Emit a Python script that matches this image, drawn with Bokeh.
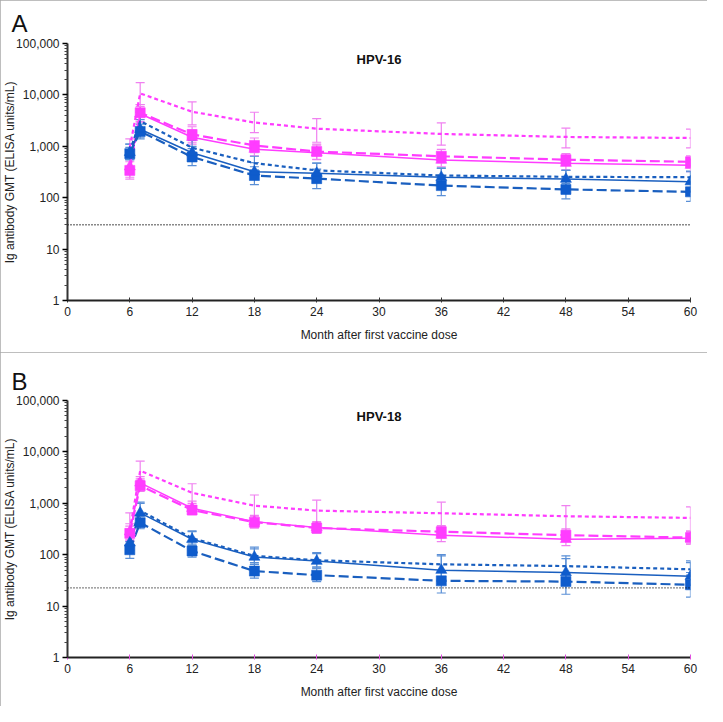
from bokeh.plotting import figure
from bokeh.models import (ColumnDataSource, Whisker, TeeHead, Span, Label, FixedTicker,
                          NumeralTickFormatter, Range1d, Title)
from bokeh.layouts import column
from bokeh.embed import file_html
from bokeh.resources import INLINE

months = [6, 7, 12, 18, 24, 36, 48, 60]
x_ticks = [0, 6, 12, 18, 24, 30, 36, 42, 48, 54, 60]
y_ticks = [1, 10, 100, 1000, 10000, 100000]
y_minor = [m * d for d in [1, 10, 100, 1000, 10000] for m in range(2, 10)]

# ---- Panel A: HPV-16 ----
a_ref = 29.8
a_mag_solid = [400, 4300, 1500, 880, 750, 540, 470, 430]
a_mag_solid_lo = [250, 3000, 1100, 650, 550, 400, 350, 320]
a_mag_solid_hi = [650, 6000, 2100, 1200, 1050, 750, 640, 580]
a_mag_long = [340, 4500, 1700, 1040, 790, 640, 550, 500]
a_mag_long_lo = [230, 3000, 1200, 750, 560, 480, 420, 380]
a_mag_long_hi = [500, 6500, 2400, 1450, 1100, 870, 720, 650]
a_mag_short = [950, 10700, 4700, 2900, 2200, 1740, 1520, 1450]
a_mag_short_lo = [550, 6500, 2600, 1850, 1200, 1050, 930, 930]
a_mag_short_hi = [1400, 17300, 7300, 4600, 3450, 2850, 2250, 2150]
a_blue_solid = [760, 2150, 750, 320, 300, 250, 230, 205]
a_blue_solid_lo = [550, 1500, 550, 230, 200, 170, 150, 130]
a_blue_solid_hi = [1100, 3300, 1000, 480, 470, 380, 340, 320]
a_blue_long = [720, 1950, 620, 270, 235, 172, 145, 130]
a_blue_long_lo = [550, 1400, 420, 180, 150, 110, 95, 85]
a_blue_long_hi = [950, 2700, 900, 400, 360, 260, 220, 200]
a_blue_short = [800, 3100, 940, 470, 340, 270, 255, 250]
a_blue_short_lo = [600, 2200, 700, 350, 250, 200, 190, 185]
a_blue_short_hi = [1100, 4500, 1300, 640, 470, 370, 340, 330]

# ---- Panel B: HPV-18 ----
b_ref = 22.6
b_mag_solid = [280, 2500, 800, 440, 340, 240, 200, 210]
b_mag_solid_lo = [200, 1900, 650, 340, 260, 180, 150, 160]
b_mag_solid_hi = [400, 3300, 1100, 580, 440, 320, 270, 280]
b_mag_long = [260, 2200, 740, 430, 330, 280, 240, 215]
b_mag_long_lo = [190, 1700, 600, 330, 260, 210, 180, 160]
b_mag_long_hi = [360, 3000, 1000, 560, 420, 370, 320, 290]
b_mag_short = [300, 4300, 1600, 900, 720, 640, 560, 520]
b_mag_short_lo = [180, 2800, 900, 500, 400, 350, 300, 280]
b_mag_short_hi = [650, 6600, 2400, 1450, 1150, 1050, 900, 850]
b_blue_solid = [170, 650, 200, 90, 75, 50, 45, 38]
b_blue_solid_lo = [120, 480, 150, 65, 55, 35, 32, 25]
b_blue_solid_hi = [240, 1000, 290, 140, 110, 95, 84, 76]
b_blue_long = [125, 420, 118, 48, 40, 31, 30, 26]
b_blue_long_lo = [85, 320, 90, 35, 30, 18, 17, 15]
b_blue_long_hi = [180, 560, 150, 65, 55, 45, 44, 45]
b_blue_short = [200, 720, 210, 95, 78, 65, 60, 52]
b_blue_short_lo = [140, 560, 160, 70, 58, 48, 45, 40]
b_blue_short_hi = [280, 1050, 280, 130, 105, 100, 95, 70]

MAG = "#ff3cff"
MAG_ERR = "#f080f0"
BLUE = "#1a5fbf"
BLUE_M = "#0f5ccc"
BLUE_ERR = "#5a8fd6"
FONT = "Liberation Sans"


def make_panel(letter, letter_standoff, title, series, ref, height, top, bottom, xtick_color):
    p = figure(width=707, height=height, y_axis_type="log",
               x_range=Range1d(0, 60), y_range=Range1d(1, 100000),
               output_backend="svg", toolbar_location=None, title=None,
               min_border_left=65, min_border_right=17,
               min_border_top=top, min_border_bottom=bottom,
               outline_line_color=None, background_fill_color="white",
               border_fill_color="white")
    p.stylesheets = [":host { outline: 1px solid #a8a8a8; outline-offset: -1px; }"]
    p.xgrid.visible = False
    p.ygrid.visible = False

    # panel letter
    p.add_layout(Title(text=letter, align="left", offset=-56, standoff=letter_standoff,
                       text_font=FONT, text_font_size="24px",
                       text_font_style="normal", text_color="#111111"), "above")

    # reference line
    p.add_layout(Span(location=ref, dimension="width", line_color="#111111",
                      line_dash="1 2", line_width=1.3))

    # error bars
    for s in series:
        vals, lo, hi, color, dash, marker = s
        src = ColumnDataSource(dict(x=months, lo=lo, hi=hi))
        ec = MAG_ERR if color == MAG else BLUE_ERR
        w = Whisker(source=src, base="x", lower="lo", upper="hi",
                    line_color=ec, line_width=1.2,
                    upper_head=TeeHead(size=9, line_color=ec, line_width=1.2),
                    lower_head=TeeHead(size=9, line_color=ec, line_width=1.2))
        p.add_layout(w)

    # lines and markers
    for s in series:
        vals, lo, hi, color, dash, marker = s
        lw = 1.5 if dash == "solid" else 2.2
        p.line(months, vals, line_color=color, line_width=lw, line_dash=dash)
    for s in series:
        vals, lo, hi, color, dash, marker = s
        if marker is None:
            continue
        mc = BLUE_M if color == BLUE else MAG
        size = 11 if marker == "triangle" else 10
        p.scatter(months, vals, marker=marker, size=size, fill_color=mc,
                  line_color=mc, line_alpha=0.6, line_width=1)

    # axes
    xa = p.xaxis[0]
    xa.ticker = FixedTicker(ticks=x_ticks, minor_ticks=[])
    xa.axis_line_width = 2
    xa.axis_line_color = "#222222"
    xa.major_tick_line_color = xtick_color
    xa.major_tick_in = 3
    xa.major_tick_out = 2
    xa.major_label_standoff = 4
    xa.major_label_text_font = FONT
    xa.major_label_text_font_size = "12px"
    xa.major_label_text_color = "#222222"
    xa.axis_label = "Month after first vaccine dose"
    xa.axis_label_text_font = FONT
    xa.axis_label_text_font_size = "12px"
    xa.axis_label_text_font_style = "normal"
    xa.axis_label_text_color = "#222222"
    xa.axis_label_standoff = 9

    ya = p.yaxis[0]
    ya.ticker = FixedTicker(ticks=y_ticks, minor_ticks=y_minor)
    ya.formatter = NumeralTickFormatter(format="0,0")
    ya.axis_line_width = 2
    ya.axis_line_color = "#333333"
    ya.major_tick_in = 0
    ya.major_tick_out = 5
    ya.major_tick_line_width = 1.5
    ya.minor_tick_in = 0
    ya.minor_tick_out = 3
    ya.minor_tick_line_color = "#444444"
    ya.major_label_standoff = 3
    ya.major_label_text_font = FONT
    ya.major_label_text_font_size = "12px"
    ya.major_label_text_color = "#222222"
    ya.axis_label = "Ig antibody GMT (ELISA units/mL)"
    ya.axis_label_text_font = FONT
    ya.axis_label_text_font_size = "12px"
    ya.axis_label_text_font_style = "normal"
    ya.axis_label_text_color = "#222222"
    ya.axis_label_standoff = -4

    # panel title inside the frame
    p.add_layout(Label(x=30, y=49500, text=title, text_align="center",
                       text_baseline="middle", text_font=FONT,
                       text_font_size="13px", text_font_style="bold",
                       text_color="#111111"))
    return p


series_a = [
    (a_mag_short, a_mag_short_lo, a_mag_short_hi, MAG, "4 3", None),
    (a_mag_long, a_mag_long_lo, a_mag_long_hi, MAG, "10 4", "square"),
    (a_mag_solid, a_mag_solid_lo, a_mag_solid_hi, MAG, "solid", "triangle"),
    (a_blue_short, a_blue_short_lo, a_blue_short_hi, BLUE, "4 3", None),
    (a_blue_long, a_blue_long_lo, a_blue_long_hi, BLUE, "10 4", "square"),
    (a_blue_solid, a_blue_solid_lo, a_blue_solid_hi, BLUE, "solid", "triangle"),
]
series_b = [
    (b_mag_short, b_mag_short_lo, b_mag_short_hi, MAG, "4 3", None),
    (b_mag_long, b_mag_long_lo, b_mag_long_hi, MAG, "10 4", "square"),
    (b_mag_solid, b_mag_solid_lo, b_mag_solid_hi, MAG, "solid", "triangle"),
    (b_blue_short, b_blue_short_lo, b_blue_short_hi, BLUE, "4 3", None),
    (b_blue_long, b_blue_long_lo, b_blue_long_hi, BLUE, "10 4", "square"),
    (b_blue_solid, b_blue_solid_lo, b_blue_solid_hi, BLUE, "solid", "triangle"),
]

pa = make_panel("A", 14, "HPV-16", series_a, a_ref, 352, 43, 52, "#333333")
pb = make_panel("B", 11, "HPV-18", series_b, b_ref, 354, 48, 49, "#e050e0")

layout = column(pa, pb, spacing=0)
open("out.html", "w").write(file_html(layout, INLINE))
